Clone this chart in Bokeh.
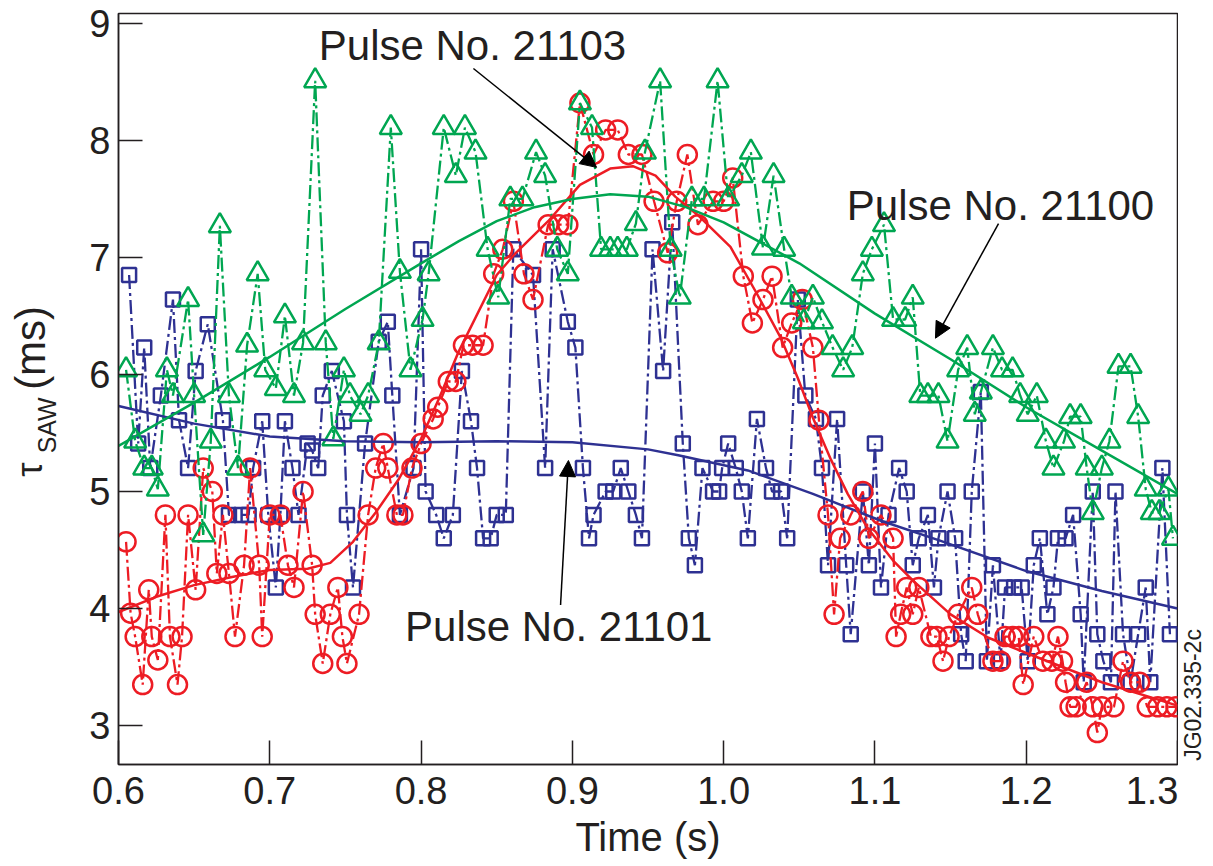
import math
from bokeh.plotting import figure
from bokeh.layouts import row
from bokeh.models import Label, Arrow, NormalHead, Range1d, FixedTicker, PrintfTickFormatter
from bokeh.core.properties import value
from bokeh.embed import file_html
from bokeh.resources import INLINE

# ---------------- data ----------------
t_21101 = [0.607, 0.613, 0.617, 0.621, 0.628, 0.636, 0.640, 0.646, 0.651, 0.659, 0.669, 0.673, 0.681,
           0.686, 0.689, 0.695, 0.699, 0.704, 0.707, 0.710, 0.715, 0.719, 0.725, 0.728, 0.732, 0.735,
           0.741, 0.749, 0.751, 0.755, 0.763, 0.772, 0.778, 0.781, 0.786, 0.795, 0.800, 0.803, 0.810,
           0.815, 0.821, 0.827, 0.833, 0.837, 0.841, 0.846, 0.850, 0.856, 0.861, 0.874, 0.882, 0.887,
           0.897, 0.902, 0.907, 0.911, 0.914, 0.922, 0.927, 0.932, 0.937, 0.942, 0.946, 0.953, 0.960,
           0.966, 0.973, 0.977, 0.981, 0.986, 0.993, 0.997, 0.999, 1.003, 1.008, 1.012, 1.016, 1.022,
           1.028, 1.032, 1.038, 1.042, 1.049, 1.054, 1.061, 1.065, 1.069, 1.075, 1.081, 1.084, 1.092,
           1.096, 1.100, 1.104, 1.109, 1.116, 1.121, 1.125, 1.129, 1.135, 1.139, 1.142, 1.148, 1.153,
           1.157, 1.160, 1.164, 1.170, 1.174, 1.178, 1.183, 1.186, 1.192, 1.197, 1.201, 1.205, 1.209,
           1.214, 1.218, 1.221, 1.226, 1.231, 1.236, 1.238, 1.244, 1.247, 1.251, 1.256, 1.259, 1.264,
           1.269, 1.274, 1.279, 1.282, 1.290, 1.295]
v_21101 = [6.85, 5.41, 6.23, 5.20, 5.82, 6.64, 5.61, 5.20, 6.03, 6.43, 5.61, 4.80, 4.80,
           4.80, 5.20, 5.60, 4.80, 4.18, 4.80, 5.60, 5.20, 4.80, 5.41, 5.35, 5.20, 5.82,
           6.03, 5.60, 4.80, 4.18, 5.41, 6.28, 6.45, 5.82, 4.80, 5.20, 7.07, 5.00, 4.80,
           4.60, 4.80, 6.03, 5.60, 5.20, 4.60, 4.60, 4.80, 4.80, 7.07, 6.85, 5.20, 7.07,
           6.45, 6.23, 5.20, 4.60, 4.80, 5.00, 5.00, 5.20, 5.00, 4.80, 4.60, 7.07, 6.03,
           7.30, 5.41, 4.60, 4.37, 5.20, 5.00, 5.00, 5.20, 5.41, 5.20, 5.00, 4.60, 5.62,
           5.20, 5.00, 5.00, 4.60, 6.64, 5.82, 5.62, 5.20, 4.37, 5.62, 4.37, 3.78, 5.00,
           4.37, 5.41, 4.18, 4.80, 5.20, 5.00, 4.37, 4.60, 4.80, 4.18, 4.60, 5.00, 4.60,
           3.78, 3.55, 5.00, 5.85, 3.55, 4.37, 3.55, 4.18, 4.18, 4.18, 3.55, 4.37, 4.60,
           3.95, 4.18, 4.60, 4.60, 4.80, 3.95, 3.37, 5.00, 3.78, 3.55, 3.37, 5.00, 3.78,
           3.37, 3.78, 4.18, 3.37, 5.20, 3.78]

t_21103 = [0.605, 0.608, 0.611, 0.616, 0.620, 0.622, 0.626, 0.631, 0.634, 0.639, 0.642, 0.646, 0.651,
           0.656, 0.662, 0.665, 0.669, 0.673, 0.677, 0.683, 0.687, 0.693, 0.695, 0.700, 0.707, 0.712,
           0.716, 0.722, 0.728, 0.730, 0.735, 0.740, 0.745, 0.748, 0.751, 0.759, 0.765, 0.770, 0.775,
           0.778, 0.784, 0.788, 0.794, 0.800, 0.808, 0.811, 0.818, 0.823, 0.828, 0.834, 0.841, 0.848,
           0.854, 0.861, 0.868, 0.874, 0.884, 0.891, 0.897, 0.905, 0.914, 0.922, 0.930, 0.937, 0.946,
           0.954, 0.963, 0.969, 0.976, 0.983, 0.993, 1.000, 1.006, 1.013, 1.019, 1.026, 1.032, 1.039,
           1.045, 1.052, 1.059, 1.063, 1.069, 1.073, 1.077, 1.084, 1.092, 1.096, 1.104, 1.112, 1.114,
           1.117, 1.121, 1.125, 1.129, 1.137, 1.141, 1.145, 1.149, 1.155, 1.164, 1.168, 1.178, 1.183,
           1.186, 1.191, 1.195, 1.198, 1.205, 1.211, 1.217, 1.221, 1.224, 1.226, 1.229, 1.233, 1.240,
           1.244, 1.247, 1.250, 1.258, 1.264, 1.269, 1.275, 1.280, 1.287, 1.293, 1.299]
v_21103 = [4.57, 3.96, 3.76, 3.35, 4.16, 3.76, 3.56, 4.80, 3.76, 3.35, 3.76, 4.80, 4.16,
           5.20, 5.00, 4.30, 4.80, 4.30, 3.76, 4.37, 5.20, 4.37, 3.76, 4.80, 4.80, 4.37,
           4.18, 5.00, 4.37, 3.95, 3.53, 3.95, 4.18, 3.76, 3.53, 3.95, 4.80, 5.20, 5.41,
           5.20, 4.80, 4.80, 5.20, 5.41, 5.62, 5.72, 5.94, 5.94, 6.25, 6.25, 6.25, 6.86,
           7.07, 7.48, 6.86, 6.64, 7.28, 7.28, 7.28, 8.32, 7.88, 8.09, 8.09, 7.88, 7.88,
           7.48, 7.04, 7.48, 7.88, 7.28, 7.48, 7.48, 7.68, 6.84, 6.44, 6.64, 6.84, 6.23,
           6.44, 6.64, 6.23, 5.61, 4.80, 3.95, 4.60, 4.80, 5.00, 4.60, 4.80, 4.60, 3.76,
           3.95, 4.18, 3.95, 4.18, 3.76, 3.76, 3.55, 3.76, 3.95, 4.18, 3.95, 3.55, 3.55,
           3.76, 3.76, 3.76, 3.35, 3.76, 3.55, 3.55, 3.76, 3.55, 3.37, 3.16, 3.16, 3.37,
           3.16, 2.94, 3.16, 3.16, 3.55, 3.37, 3.37, 3.16, 3.16, 3.16, 3.16]

t_21100 = [0.605, 0.611, 0.617, 0.622, 0.626, 0.632, 0.636, 0.646, 0.650, 0.656, 0.661, 0.667, 0.673,
           0.679, 0.685, 0.692, 0.697, 0.704, 0.710, 0.716, 0.722, 0.730, 0.737, 0.742, 0.749, 0.753,
           0.760, 0.765, 0.772, 0.780, 0.786, 0.793, 0.801, 0.805, 0.815, 0.823, 0.829, 0.836, 0.844,
           0.851, 0.859, 0.867, 0.876, 0.882, 0.890, 0.897, 0.905, 0.913, 0.919, 0.925, 0.930, 0.936,
           0.942, 0.948, 0.958, 0.965, 0.971, 0.979, 0.987, 0.996, 1.003, 1.012, 1.018, 1.026, 1.033,
           1.040, 1.045, 1.053, 1.059, 1.065, 1.072, 1.079, 1.085, 1.092, 1.098, 1.106, 1.112, 1.120,
           1.125, 1.130, 1.135, 1.142, 1.148, 1.155, 1.161, 1.166, 1.170, 1.178, 1.184, 1.191, 1.196,
           1.201, 1.207, 1.213, 1.218, 1.225, 1.229, 1.236, 1.240, 1.244, 1.250, 1.255, 1.261, 1.269,
           1.274, 1.279, 1.283, 1.288, 1.294, 1.297]
v_21100 = [6.04, 5.43, 5.20, 5.20, 5.02, 6.04, 5.82, 6.64, 5.82, 4.63, 5.43, 7.27, 5.82,
           5.20, 6.25, 6.86, 6.04, 5.88, 6.50, 5.82, 6.27, 8.51, 6.27, 5.45, 6.04, 5.82,
           5.66, 5.82, 6.27, 8.11, 6.88, 6.04, 6.47, 6.86, 8.11, 7.70, 8.11, 7.90, 7.07,
           6.66, 7.50, 7.50, 7.90, 7.70, 7.07, 6.86, 8.32, 8.11, 7.07, 7.07, 7.07, 7.07,
           7.29, 7.90, 8.51, 7.07, 6.66, 7.50, 7.50, 8.51, 7.50, 7.70, 7.90, 7.08, 7.70,
           7.07, 6.66, 6.45, 6.66, 6.45, 6.23, 6.04, 6.23, 6.86, 7.07, 7.28, 6.47, 6.47,
           6.66, 5.82, 5.82, 5.82, 5.43, 6.04, 6.23, 5.66, 5.85, 6.23, 6.04, 6.04, 5.82,
           5.66, 5.82, 5.43, 5.20, 5.43, 5.64, 5.64, 5.20, 4.82, 5.20, 5.43, 6.07, 6.07,
           5.64, 5.02, 4.82, 4.82, 5.02, 4.60]

# smooth trend curves
fit_t_21100 = [0.6, 0.65, 0.7, 0.75, 0.8, 0.825, 0.85, 0.875, 0.9, 0.925, 0.95, 0.975, 1.0,
               1.05, 1.1, 1.15, 1.2, 1.25, 1.3]
fit_v_21100 = [5.39, 5.76, 6.15, 6.56, 6.95, 7.14, 7.31, 7.43, 7.50, 7.54, 7.52, 7.43, 7.30,
               6.95, 6.52, 6.13, 5.72, 5.35, 4.98]
fit_t_21103 = [0.6, 0.625, 0.65, 0.675, 0.7, 0.725, 0.74, 0.755, 0.77, 0.785, 0.8, 0.812, 0.825,
               0.85, 0.862, 0.884, 0.905, 0.925, 0.94, 0.955, 0.968, 0.984, 1.0045, 1.022, 1.0375,
               1.049, 1.059, 1.071, 1.082, 1.095, 1.112, 1.125, 1.15, 1.175, 1.2, 1.25, 1.3]
fit_v_21103 = [3.97, 4.10, 4.20, 4.27, 4.33, 4.34, 4.39, 4.57, 4.82, 5.10, 5.45, 5.80, 6.20,
               6.85, 7.03, 7.31, 7.62, 7.76, 7.78, 7.70, 7.52, 7.35, 7.09, 6.69, 6.32,
               5.97, 5.63, 5.27, 4.98, 4.69, 4.41, 4.24, 3.95, 3.75, 3.62, 3.37, 3.17]
fit_t_21101 = [0.6, 0.65, 0.7, 0.75, 0.8, 0.85, 0.9, 0.95, 0.97, 1.016, 1.059, 1.104, 1.143,
               1.2, 1.25, 1.3]
fit_v_21101 = [5.73, 5.58, 5.47, 5.43, 5.42, 5.43, 5.42, 5.36, 5.31, 5.18, 4.98, 4.75, 4.58,
               4.32, 4.15, 4.00]

x_ticks = [0.6, 0.7, 0.8, 0.9, 1.0, 1.1, 1.2, 1.3]
y_ticks = [3, 4, 5, 6, 7, 8, 9]

RED = "#ed1c24"
BLUE = "#2e3192"
GREEN = "#00a651"
INK = "#231f20"
FONT = "Liberation Sans"

H = 864          # canvas height
LW = 80          # left strip (y-axis title), page x 0..80
RX0 = 1178       # right strip starts here (page x)
RW = 30          # right strip width (figure code)

# ---------------- main plot ----------------
p = figure(width=RX0 - LW, height=H, output_backend="svg", toolbar_location=None,
           x_range=Range1d(0.6, 1.3), y_range=Range1d(2.667, 9.085),
           min_border_left=118 - LW, min_border_right=1, min_border_top=13,
           min_border_bottom=H - 13 - 751)
p.grid.visible = False
p.outline_line_color = INK
p.outline_line_width = 1.5

for ax in (p.xaxis, p.yaxis):
    ax.major_tick_in = 24
    ax.major_tick_out = 0
    ax.minor_tick_line_color = None
    ax.axis_line_color = INK
    ax.axis_line_width = 1.5
    ax.major_tick_line_color = INK
    ax.major_tick_line_width = 1.5
    ax.major_label_text_font = FONT
    ax.major_label_text_font_size = "38px"
    ax.major_label_text_color = INK

p.xaxis.ticker = FixedTicker(ticks=x_ticks)
p.xaxis.formatter = PrintfTickFormatter(format="%.1f")
p.yaxis.ticker = FixedTicker(ticks=y_ticks)
p.yaxis.formatter = PrintfTickFormatter(format="%d")
p.xaxis.major_label_standoff = 12
p.yaxis.major_label_standoff = 8
p.xaxis.axis_label = "Time (s)"
p.xaxis.axis_label_text_font = FONT
p.xaxis.axis_label_text_font_size = "40px"
p.xaxis.axis_label_text_font_style = "normal"
p.xaxis.axis_label_text_color = INK
p.xaxis.axis_label_standoff = 8

DASH = "14 4 3 4"
series = [
    (t_21101, v_21101, BLUE, "square", 14),
    (t_21103, v_21103, RED, "circle", 19),
    (t_21100, v_21100, GREEN, "triangle", 22),
]
for t, v, c, m, s in series:
    p.line(t, v, line_color=c, line_width=2.3, line_dash=DASH)
    p.scatter(t, v, marker=m, size=s, fill_color=None, line_color=c, line_width=2.5)

p.line(fit_t_21101, fit_v_21101, line_color=BLUE, line_width=2.5)
p.line(fit_t_21103, fit_v_21103, line_color=RED, line_width=2.5)
p.line(fit_t_21100, fit_v_21100, line_color=GREEN, line_width=2.5)

for txt, x, y in [("Pulse No. 21103", 0.834, 8.81),
                  ("Pulse No. 21100", 1.183, 7.44),
                  ("Pulse No. 21101", 0.891, 3.85)]:
    p.add_layout(Label(x=x, y=y, text=txt, text_font=FONT, text_font_size="42px",
                       text_color=INK, text_align="center", text_baseline="middle"))

for xs, ys, xe, ye in [(0.8346, 8.615, 0.916, 7.77),
                       (1.1817, 7.29, 1.140, 6.31),
                       (0.8922, 4.03, 0.8974, 5.265)]:
    p.add_layout(Arrow(end=NormalHead(size=16, fill_color="black", line_color="black"),
                       x_start=xs, y_start=ys, x_end=xe, y_end=ye,
                       line_color="black", line_width=1.5))

# ---------------- left strip: y-axis title (tau with subscript SAW) ----------------
left = figure(width=LW, height=H, output_backend="svg", toolbar_location=None,
              x_range=Range1d(0, LW), y_range=Range1d(0, H),
              x_axis_location=None, y_axis_location=None,
              min_border_left=0, min_border_right=0, min_border_top=0, min_border_bottom=0)
left.grid.visible = False
left.outline_line_color = None
ylab_text = ["τ", "SAW", "(ms)"]
ylab_x = [28.5, 46.5, 29.5]
ylab_y = [H - 533, H - 506, H - 433]
ylab_size = ["36px", "25px", "42px"]
for tx, xx, yy, fs in zip(ylab_text, ylab_x, ylab_y, ylab_size):
    left.text(x=[xx], y=[yy], text=[tx], angle=math.pi / 2, text_align="left",
              text_baseline="middle", text_font=value(FONT), text_font_size=fs,
              text_color=INK)

# ---------------- right strip: figure code ----------------
right = figure(width=RW, height=H, output_backend="svg", toolbar_location=None,
               x_range=Range1d(RX0, RX0 + RW), y_range=Range1d(0, H),
               x_axis_location=None, y_axis_location=None,
               min_border_left=0, min_border_right=0, min_border_top=0, min_border_bottom=0)
right.grid.visible = False
right.outline_line_color = None
right.text(x=[1192], y=[H - 784], text=["JG02.335-2c"], angle=math.pi / 2, text_align="center",
           text_baseline="middle", text_font=value(FONT), text_font_size="23px",
           text_color=INK)

layout = row(left, p, right, spacing=0)
open("out.html", "w").write(file_html(layout, INLINE))
